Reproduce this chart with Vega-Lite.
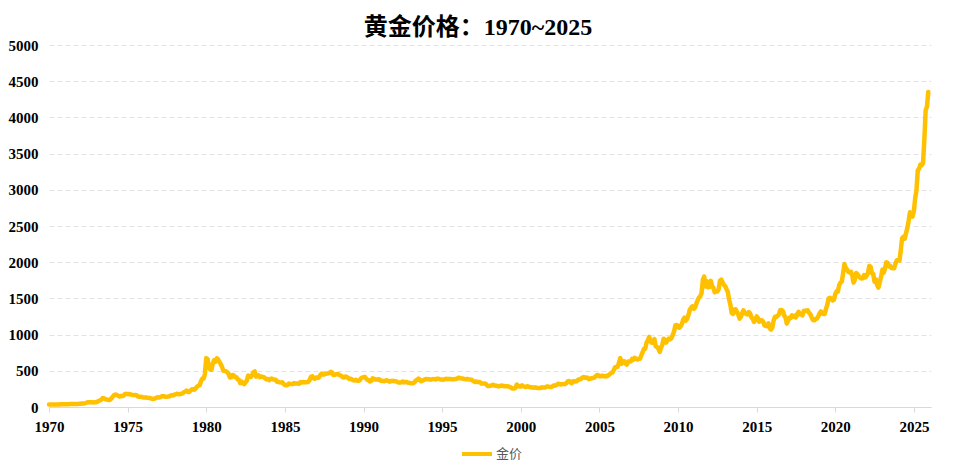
{
  "$schema": "https://vega.github.io/schema/vega-lite/v6.json",
  "description": "黄金价格 1970~2025",
  "autosize": {"type": "none"},
  "width": 882,
  "height": 362,
  "padding": {"left": 49, "top": 45, "right": 24, "bottom": 66},
  "background": "white",
  "title": {
    "text": "黄金价格：1970~2025",
    "font": "Liberation Serif, Noto Sans CJK SC",
    "fontSize": 24,
    "fontWeight": "bold",
    "color": "#000000",
    "anchor": "middle",
    "frame": "group",
    "dx": -12,
    "offset": -2
  },
  "data": {
    "values": [
      {"d":"1970-01","v":35},{"d":"1970-02","v":35},{"d":"1970-03","v":35},{"d":"1970-04","v":36},{"d":"1970-05","v":36},{"d":"1970-06","v":35},{"d":"1970-07","v":35},{"d":"1970-08","v":35},{"d":"1970-09","v":36},{"d":"1970-10","v":38},{"d":"1970-11","v":37},{"d":"1970-12","v":37},
      {"d":"1971-01","v":38},{"d":"1971-02","v":39},{"d":"1971-03","v":39},{"d":"1971-04","v":39},{"d":"1971-05","v":40},{"d":"1971-06","v":40},{"d":"1971-07","v":41},{"d":"1971-08","v":43},{"d":"1971-09","v":42},{"d":"1971-10","v":42},{"d":"1971-11","v":43},{"d":"1971-12","v":44},
      {"d":"1972-01","v":46},{"d":"1972-02","v":48},{"d":"1972-03","v":48},{"d":"1972-04","v":49},{"d":"1972-05","v":55},{"d":"1972-06","v":62},{"d":"1972-07","v":66},{"d":"1972-08","v":67},{"d":"1972-09","v":66},{"d":"1972-10","v":65},{"d":"1972-11","v":63},{"d":"1972-12","v":64},
      {"d":"1973-01","v":65},{"d":"1973-02","v":74},{"d":"1973-03","v":84},{"d":"1973-04","v":90},{"d":"1973-05","v":102},{"d":"1973-06","v":123},{"d":"1973-07","v":120},{"d":"1973-08","v":106},{"d":"1973-09","v":103},{"d":"1973-10","v":100},{"d":"1973-11","v":94},{"d":"1973-12","v":106},
      {"d":"1974-01","v":129},{"d":"1974-02","v":150},{"d":"1974-03","v":168},{"d":"1974-04","v":172},{"d":"1974-05","v":163},{"d":"1974-06","v":154},{"d":"1974-07","v":143},{"d":"1974-08","v":154},{"d":"1974-09","v":151},{"d":"1974-10","v":158},{"d":"1974-11","v":181},{"d":"1974-12","v":183},
      {"d":"1975-01","v":176},{"d":"1975-02","v":180},{"d":"1975-03","v":178},{"d":"1975-04","v":170},{"d":"1975-05","v":167},{"d":"1975-06","v":164},{"d":"1975-07","v":165},{"d":"1975-08","v":163},{"d":"1975-09","v":144},{"d":"1975-10","v":142},{"d":"1975-11","v":142},{"d":"1975-12","v":139},
      {"d":"1976-01","v":131},{"d":"1976-02","v":131},{"d":"1976-03","v":133},{"d":"1976-04","v":128},{"d":"1976-05","v":126},{"d":"1976-06","v":126},{"d":"1976-07","v":118},{"d":"1976-08","v":110},{"d":"1976-09","v":114},{"d":"1976-10","v":117},{"d":"1976-11","v":130},{"d":"1976-12","v":134},
      {"d":"1977-01","v":132},{"d":"1977-02","v":136},{"d":"1977-03","v":148},{"d":"1977-04","v":149},{"d":"1977-05","v":147},{"d":"1977-06","v":141},{"d":"1977-07","v":143},{"d":"1977-08","v":145},{"d":"1977-09","v":149},{"d":"1977-10","v":158},{"d":"1977-11","v":162},{"d":"1977-12","v":161},
      {"d":"1978-01","v":173},{"d":"1978-02","v":178},{"d":"1978-03","v":184},{"d":"1978-04","v":175},{"d":"1978-05","v":177},{"d":"1978-06","v":183},{"d":"1978-07","v":188},{"d":"1978-08","v":206},{"d":"1978-09","v":212},{"d":"1978-10","v":227},{"d":"1978-11","v":206},{"d":"1978-12","v":208},
      {"d":"1979-01","v":227},{"d":"1979-02","v":245},{"d":"1979-03","v":242},{"d":"1979-04","v":239},{"d":"1979-05","v":257},{"d":"1979-06","v":280},{"d":"1979-07","v":295},{"d":"1979-08","v":301},{"d":"1979-09","v":355},{"d":"1979-10","v":392},{"d":"1979-11","v":392},{"d":"1979-12","v":456},
      {"d":"1980-01","v":675},{"d":"1980-02","v":665},{"d":"1980-03","v":554},{"d":"1980-04","v":517},{"d":"1980-05","v":514},{"d":"1980-06","v":600},{"d":"1980-07","v":644},{"d":"1980-08","v":627},{"d":"1980-09","v":674},{"d":"1980-10","v":661},{"d":"1980-11","v":623},{"d":"1980-12","v":594},
      {"d":"1981-01","v":557},{"d":"1981-02","v":500},{"d":"1981-03","v":499},{"d":"1981-04","v":495},{"d":"1981-05","v":480},{"d":"1981-06","v":461},{"d":"1981-07","v":409},{"d":"1981-08","v":410},{"d":"1981-09","v":443},{"d":"1981-10","v":437},{"d":"1981-11","v":413},{"d":"1981-12","v":410},
      {"d":"1982-01","v":384},{"d":"1982-02","v":374},{"d":"1982-03","v":330},{"d":"1982-04","v":350},{"d":"1982-05","v":334},{"d":"1982-06","v":315},{"d":"1982-07","v":339},{"d":"1982-08","v":364},{"d":"1982-09","v":435},{"d":"1982-10","v":423},{"d":"1982-11","v":414},{"d":"1982-12","v":445},
      {"d":"1983-01","v":481},{"d":"1983-02","v":491},{"d":"1983-03","v":420},{"d":"1983-04","v":432},{"d":"1983-05","v":437},{"d":"1983-06","v":413},{"d":"1983-07","v":422},{"d":"1983-08","v":416},{"d":"1983-09","v":411},{"d":"1983-10","v":394},{"d":"1983-11","v":382},{"d":"1983-12","v":388},
      {"d":"1984-01","v":370},{"d":"1984-02","v":386},{"d":"1984-03","v":394},{"d":"1984-04","v":381},{"d":"1984-05","v":377},{"d":"1984-06","v":378},{"d":"1984-07","v":348},{"d":"1984-08","v":348},{"d":"1984-09","v":341},{"d":"1984-10","v":340},{"d":"1984-11","v":341},{"d":"1984-12","v":320},
      {"d":"1985-01","v":303},{"d":"1985-02","v":299},{"d":"1985-03","v":304},{"d":"1985-04","v":325},{"d":"1985-05","v":316},{"d":"1985-06","v":317},{"d":"1985-07","v":317},{"d":"1985-08","v":330},{"d":"1985-09","v":323},{"d":"1985-10","v":326},{"d":"1985-11","v":325},{"d":"1985-12","v":322},
      {"d":"1986-01","v":345},{"d":"1986-02","v":339},{"d":"1986-03","v":346},{"d":"1986-04","v":340},{"d":"1986-05","v":342},{"d":"1986-06","v":343},{"d":"1986-07","v":348},{"d":"1986-08","v":376},{"d":"1986-09","v":418},{"d":"1986-10","v":424},{"d":"1986-11","v":395},{"d":"1986-12","v":391},
      {"d":"1987-01","v":408},{"d":"1987-02","v":401},{"d":"1987-03","v":409},{"d":"1987-04","v":438},{"d":"1987-05","v":460},{"d":"1987-06","v":450},{"d":"1987-07","v":450},{"d":"1987-08","v":460},{"d":"1987-09","v":460},{"d":"1987-10","v":465},{"d":"1987-11","v":468},{"d":"1987-12","v":487},
      {"d":"1988-01","v":477},{"d":"1988-02","v":442},{"d":"1988-03","v":444},{"d":"1988-04","v":452},{"d":"1988-05","v":451},{"d":"1988-06","v":452},{"d":"1988-07","v":437},{"d":"1988-08","v":432},{"d":"1988-09","v":413},{"d":"1988-10","v":406},{"d":"1988-11","v":420},{"d":"1988-12","v":419},
      {"d":"1989-01","v":404},{"d":"1989-02","v":388},{"d":"1989-03","v":390},{"d":"1989-04","v":384},{"d":"1989-05","v":371},{"d":"1989-06","v":367},{"d":"1989-07","v":375},{"d":"1989-08","v":365},{"d":"1989-09","v":362},{"d":"1989-10","v":367},{"d":"1989-11","v":394},{"d":"1989-12","v":409},
      {"d":"1990-01","v":410},{"d":"1990-02","v":416},{"d":"1990-03","v":393},{"d":"1990-04","v":374},{"d":"1990-05","v":369},{"d":"1990-06","v":352},{"d":"1990-07","v":362},{"d":"1990-08","v":395},{"d":"1990-09","v":389},{"d":"1990-10","v":381},{"d":"1990-11","v":381},{"d":"1990-12","v":378},
      {"d":"1991-01","v":384},{"d":"1991-02","v":364},{"d":"1991-03","v":363},{"d":"1991-04","v":358},{"d":"1991-05","v":357},{"d":"1991-06","v":366},{"d":"1991-07","v":368},{"d":"1991-08","v":356},{"d":"1991-09","v":349},{"d":"1991-10","v":358},{"d":"1991-11","v":360},{"d":"1991-12","v":361},
      {"d":"1992-01","v":354},{"d":"1992-02","v":354},{"d":"1992-03","v":345},{"d":"1992-04","v":338},{"d":"1992-05","v":337},{"d":"1992-06","v":341},{"d":"1992-07","v":353},{"d":"1992-08","v":340},{"d":"1992-09","v":345},{"d":"1992-10","v":344},{"d":"1992-11","v":335},{"d":"1992-12","v":334},
      {"d":"1993-01","v":329},{"d":"1993-02","v":329},{"d":"1993-03","v":330},{"d":"1993-04","v":342},{"d":"1993-05","v":367},{"d":"1993-06","v":372},{"d":"1993-07","v":392},{"d":"1993-08","v":379},{"d":"1993-09","v":355},{"d":"1993-10","v":364},{"d":"1993-11","v":374},{"d":"1993-12","v":383},
      {"d":"1994-01","v":387},{"d":"1994-02","v":382},{"d":"1994-03","v":384},{"d":"1994-04","v":377},{"d":"1994-05","v":381},{"d":"1994-06","v":386},{"d":"1994-07","v":385},{"d":"1994-08","v":380},{"d":"1994-09","v":391},{"d":"1994-10","v":390},{"d":"1994-11","v":384},{"d":"1994-12","v":379},
      {"d":"1995-01","v":379},{"d":"1995-02","v":377},{"d":"1995-03","v":382},{"d":"1995-04","v":391},{"d":"1995-05","v":385},{"d":"1995-06","v":387},{"d":"1995-07","v":386},{"d":"1995-08","v":383},{"d":"1995-09","v":383},{"d":"1995-10","v":383},{"d":"1995-11","v":386},{"d":"1995-12","v":387},
      {"d":"1996-01","v":400},{"d":"1996-02","v":405},{"d":"1996-03","v":396},{"d":"1996-04","v":393},{"d":"1996-05","v":392},{"d":"1996-06","v":385},{"d":"1996-07","v":383},{"d":"1996-08","v":387},{"d":"1996-09","v":383},{"d":"1996-10","v":381},{"d":"1996-11","v":378},{"d":"1996-12","v":369},
      {"d":"1997-01","v":355},{"d":"1997-02","v":347},{"d":"1997-03","v":352},{"d":"1997-04","v":344},{"d":"1997-05","v":344},{"d":"1997-06","v":341},{"d":"1997-07","v":324},{"d":"1997-08","v":324},{"d":"1997-09","v":323},{"d":"1997-10","v":325},{"d":"1997-11","v":306},{"d":"1997-12","v":289},
      {"d":"1998-01","v":289},{"d":"1998-02","v":297},{"d":"1998-03","v":296},{"d":"1998-04","v":308},{"d":"1998-05","v":299},{"d":"1998-06","v":292},{"d":"1998-07","v":293},{"d":"1998-08","v":284},{"d":"1998-09","v":289},{"d":"1998-10","v":296},{"d":"1998-11","v":294},{"d":"1998-12","v":291},
      {"d":"1999-01","v":287},{"d":"1999-02","v":287},{"d":"1999-03","v":286},{"d":"1999-04","v":282},{"d":"1999-05","v":276},{"d":"1999-06","v":261},{"d":"1999-07","v":256},{"d":"1999-08","v":257},{"d":"1999-09","v":265},{"d":"1999-10","v":311},{"d":"1999-11","v":293},{"d":"1999-12","v":283},
      {"d":"2000-01","v":284},{"d":"2000-02","v":300},{"d":"2000-03","v":286},{"d":"2000-04","v":280},{"d":"2000-05","v":275},{"d":"2000-06","v":286},{"d":"2000-07","v":282},{"d":"2000-08","v":274},{"d":"2000-09","v":273},{"d":"2000-10","v":270},{"d":"2000-11","v":266},{"d":"2000-12","v":272},
      {"d":"2001-01","v":266},{"d":"2001-02","v":262},{"d":"2001-03","v":263},{"d":"2001-04","v":261},{"d":"2001-05","v":272},{"d":"2001-06","v":270},{"d":"2001-07","v":268},{"d":"2001-08","v":273},{"d":"2001-09","v":283},{"d":"2001-10","v":283},{"d":"2001-11","v":276},{"d":"2001-12","v":276},
      {"d":"2002-01","v":282},{"d":"2002-02","v":296},{"d":"2002-03","v":294},{"d":"2002-04","v":302},{"d":"2002-05","v":314},{"d":"2002-06","v":322},{"d":"2002-07","v":314},{"d":"2002-08","v":310},{"d":"2002-09","v":319},{"d":"2002-10","v":317},{"d":"2002-11","v":319},{"d":"2002-12","v":333},
      {"d":"2003-01","v":357},{"d":"2003-02","v":359},{"d":"2003-03","v":340},{"d":"2003-04","v":328},{"d":"2003-05","v":355},{"d":"2003-06","v":356},{"d":"2003-07","v":351},{"d":"2003-08","v":360},{"d":"2003-09","v":379},{"d":"2003-10","v":379},{"d":"2003-11","v":389},{"d":"2003-12","v":407},
      {"d":"2004-01","v":414},{"d":"2004-02","v":405},{"d":"2004-03","v":406},{"d":"2004-04","v":404},{"d":"2004-05","v":384},{"d":"2004-06","v":392},{"d":"2004-07","v":398},{"d":"2004-08","v":400},{"d":"2004-09","v":406},{"d":"2004-10","v":420},{"d":"2004-11","v":439},{"d":"2004-12","v":442},
      {"d":"2005-01","v":424},{"d":"2005-02","v":423},{"d":"2005-03","v":434},{"d":"2005-04","v":428},{"d":"2005-05","v":422},{"d":"2005-06","v":431},{"d":"2005-07","v":424},{"d":"2005-08","v":438},{"d":"2005-09","v":456},{"d":"2005-10","v":470},{"d":"2005-11","v":476},{"d":"2005-12","v":510},
      {"d":"2006-01","v":549},{"d":"2006-02","v":555},{"d":"2006-03","v":557},{"d":"2006-04","v":610},{"d":"2006-05","v":676},{"d":"2006-06","v":596},{"d":"2006-07","v":633},{"d":"2006-08","v":632},{"d":"2006-09","v":598},{"d":"2006-10","v":586},{"d":"2006-11","v":628},{"d":"2006-12","v":629},
      {"d":"2007-01","v":631},{"d":"2007-02","v":665},{"d":"2007-03","v":655},{"d":"2007-04","v":679},{"d":"2007-05","v":667},{"d":"2007-06","v":655},{"d":"2007-07","v":665},{"d":"2007-08","v":665},{"d":"2007-09","v":712},{"d":"2007-10","v":754},{"d":"2007-11","v":806},{"d":"2007-12","v":803},
      {"d":"2008-01","v":889},{"d":"2008-02","v":922},{"d":"2008-03","v":968},{"d":"2008-04","v":909},{"d":"2008-05","v":888},{"d":"2008-06","v":889},{"d":"2008-07","v":939},{"d":"2008-08","v":839},{"d":"2008-09","v":829},{"d":"2008-10","v":806},{"d":"2008-11","v":760},{"d":"2008-12","v":816},
      {"d":"2009-01","v":858},{"d":"2009-02","v":943},{"d":"2009-03","v":924},{"d":"2009-04","v":890},{"d":"2009-05","v":928},{"d":"2009-06","v":946},{"d":"2009-07","v":934},{"d":"2009-08","v":949},{"d":"2009-09","v":996},{"d":"2009-10","v":1043},{"d":"2009-11","v":1127},{"d":"2009-12","v":1134},
      {"d":"2010-01","v":1118},{"d":"2010-02","v":1095},{"d":"2010-03","v":1113},{"d":"2010-04","v":1148},{"d":"2010-05","v":1205},{"d":"2010-06","v":1233},{"d":"2010-07","v":1193},{"d":"2010-08","v":1215},{"d":"2010-09","v":1271},{"d":"2010-10","v":1343},{"d":"2010-11","v":1370},{"d":"2010-12","v":1391},
      {"d":"2011-01","v":1356},{"d":"2011-02","v":1372},{"d":"2011-03","v":1424},{"d":"2011-04","v":1473},{"d":"2011-05","v":1510},{"d":"2011-06","v":1529},{"d":"2011-07","v":1572},{"d":"2011-08","v":1756},{"d":"2011-09","v":1800},{"d":"2011-10","v":1665},{"d":"2011-11","v":1739},{"d":"2011-12","v":1652},
      {"d":"2012-01","v":1656},{"d":"2012-02","v":1742},{"d":"2012-03","v":1673},{"d":"2012-04","v":1650},{"d":"2012-05","v":1585},{"d":"2012-06","v":1596},{"d":"2012-07","v":1594},{"d":"2012-08","v":1626},{"d":"2012-09","v":1744},{"d":"2012-10","v":1760},{"d":"2012-11","v":1721},{"d":"2012-12","v":1688},
      {"d":"2013-01","v":1670},{"d":"2013-02","v":1627},{"d":"2013-03","v":1592},{"d":"2013-04","v":1485},{"d":"2013-05","v":1414},{"d":"2013-06","v":1300},{"d":"2013-07","v":1286},{"d":"2013-08","v":1347},{"d":"2013-09","v":1349},{"d":"2013-10","v":1316},{"d":"2013-11","v":1275},{"d":"2013-12","v":1221},
      {"d":"2014-01","v":1244},{"d":"2014-02","v":1300},{"d":"2014-03","v":1336},{"d":"2014-04","v":1299},{"d":"2014-05","v":1287},{"d":"2014-06","v":1279},{"d":"2014-07","v":1311},{"d":"2014-08","v":1296},{"d":"2014-09","v":1239},{"d":"2014-10","v":1222},{"d":"2014-11","v":1176},{"d":"2014-12","v":1200},
      {"d":"2015-01","v":1251},{"d":"2015-02","v":1227},{"d":"2015-03","v":1179},{"d":"2015-04","v":1198},{"d":"2015-05","v":1199},{"d":"2015-06","v":1181},{"d":"2015-07","v":1128},{"d":"2015-08","v":1117},{"d":"2015-09","v":1125},{"d":"2015-10","v":1157},{"d":"2015-11","v":1086},{"d":"2015-12","v":1068},
      {"d":"2016-01","v":1097},{"d":"2016-02","v":1199},{"d":"2016-03","v":1246},{"d":"2016-04","v":1242},{"d":"2016-05","v":1260},{"d":"2016-06","v":1276},{"d":"2016-07","v":1337},{"d":"2016-08","v":1341},{"d":"2016-09","v":1326},{"d":"2016-10","v":1267},{"d":"2016-11","v":1236},{"d":"2016-12","v":1152},
      {"d":"2017-01","v":1192},{"d":"2017-02","v":1234},{"d":"2017-03","v":1231},{"d":"2017-04","v":1267},{"d":"2017-05","v":1245},{"d":"2017-06","v":1260},{"d":"2017-07","v":1236},{"d":"2017-08","v":1283},{"d":"2017-09","v":1315},{"d":"2017-10","v":1280},{"d":"2017-11","v":1283},{"d":"2017-12","v":1265},
      {"d":"2018-01","v":1331},{"d":"2018-02","v":1331},{"d":"2018-03","v":1325},{"d":"2018-04","v":1335},{"d":"2018-05","v":1303},{"d":"2018-06","v":1282},{"d":"2018-07","v":1238},{"d":"2018-08","v":1201},{"d":"2018-09","v":1198},{"d":"2018-10","v":1215},{"d":"2018-11","v":1220},{"d":"2018-12","v":1250},
      {"d":"2019-01","v":1291},{"d":"2019-02","v":1320},{"d":"2019-03","v":1300},{"d":"2019-04","v":1285},{"d":"2019-05","v":1284},{"d":"2019-06","v":1359},{"d":"2019-07","v":1413},{"d":"2019-08","v":1500},{"d":"2019-09","v":1510},{"d":"2019-10","v":1495},{"d":"2019-11","v":1471},{"d":"2019-12","v":1480},
      {"d":"2020-01","v":1560},{"d":"2020-02","v":1597},{"d":"2020-03","v":1592},{"d":"2020-04","v":1683},{"d":"2020-05","v":1716},{"d":"2020-06","v":1732},{"d":"2020-07","v":1846},{"d":"2020-08","v":1975},{"d":"2020-09","v":1921},{"d":"2020-10","v":1900},{"d":"2020-11","v":1866},{"d":"2020-12","v":1858},
      {"d":"2021-01","v":1867},{"d":"2021-02","v":1808},{"d":"2021-03","v":1718},{"d":"2021-04","v":1760},{"d":"2021-05","v":1850},{"d":"2021-06","v":1834},{"d":"2021-07","v":1807},{"d":"2021-08","v":1785},{"d":"2021-09","v":1776},{"d":"2021-10","v":1777},{"d":"2021-11","v":1821},{"d":"2021-12","v":1790},
      {"d":"2022-01","v":1817},{"d":"2022-02","v":1856},{"d":"2022-03","v":1948},{"d":"2022-04","v":1937},{"d":"2022-05","v":1849},{"d":"2022-06","v":1837},{"d":"2022-07","v":1732},{"d":"2022-08","v":1764},{"d":"2022-09","v":1681},{"d":"2022-10","v":1650},{"d":"2022-11","v":1726},{"d":"2022-12","v":1798},
      {"d":"2023-01","v":1898},{"d":"2023-02","v":1855},{"d":"2023-03","v":1912},{"d":"2023-04","v":1999},{"d":"2023-05","v":1992},{"d":"2023-06","v":1943},{"d":"2023-07","v":1951},{"d":"2023-08","v":1918},{"d":"2023-09","v":1916},{"d":"2023-10","v":1916},{"d":"2023-11","v":1985},{"d":"2023-12","v":2027},
      {"d":"2024-01","v":2034},{"d":"2024-02","v":2023},{"d":"2024-03","v":2158},{"d":"2024-04","v":2331},{"d":"2024-05","v":2351},{"d":"2024-06","v":2326},{"d":"2024-07","v":2398},{"d":"2024-08","v":2470},{"d":"2024-09","v":2570},{"d":"2024-10","v":2690},{"d":"2024-11","v":2651},{"d":"2024-12","v":2630},
      {"d":"2025-01","v":2709},{"d":"2025-02","v":2895},{"d":"2025-03","v":2984},{"d":"2025-04","v":3270},{"d":"2025-05","v":3290},{"d":"2025-06","v":3350},{"d":"2025-07","v":3340},{"d":"2025-08","v":3370},{"d":"2025-09","v":3700},{"d":"2025-10","v":4100},{"d":"2025-11","v":4150},{"d":"2025-12","v":4350}
    ]
  },
  "mark": {"type": "line", "strokeWidth": 4.5, "strokeJoin": "round", "strokeCap": "round"},
  "encoding": {
    "x": {
      "field": "d",
      "type": "temporal",
      "scale": {"domain": [{"year": 1970, "month": 1, "date": 1}, {"year": 2026, "month": 2, "date": 2}]},
      "axis": {
        "title": null,
        "grid": false,
        "values": [{"year": 1970}, {"year": 1975}, {"year": 1980}, {"year": 1985}, {"year": 1990}, {"year": 1995}, {"year": 2000}, {"year": 2005}, {"year": 2010}, {"year": 2015}, {"year": 2020}, {"year": 2025}],
        "format": "%Y",
        "labelFlush": false,
        "labelOverlap": false,
        "domainColor": "#d9d9d9",
        "tickColor": "#d9d9d9",
        "tickSize": 5,
        "labelPadding": 7,
        "labelFont": "Liberation Serif",
        "labelFontWeight": "bold",
        "labelFontSize": 15,
        "labelColor": "#000000"
      }
    },
    "y": {
      "field": "v",
      "type": "quantitative",
      "scale": {"domain": [0, 5000], "nice": false},
      "axis": {
        "title": null,
        "values": [0, 500, 1000, 1500, 2000, 2500, 3000, 3500, 4000, 4500, 5000],
        "format": "d",
        "domain": false,
        "ticks": false,
        "gridColor": "#e3e3e3",
        "gridDash": [5, 3],
        "labelPadding": 11,
        "labelFont": "Liberation Serif",
        "labelFontWeight": "bold",
        "labelFontSize": 15,
        "labelColor": "#000000"
      }
    },
    "color": {
      "datum": "金价",
      "type": "nominal",
      "scale": {"range": ["#FFC000"]},
      "legend": {
        "title": null,
        "orient": "none",
        "legendX": 411,
        "legendY": 392,
        "symbolType": "stroke",
        "symbolSize": 900,
        "symbolStrokeWidth": 4,
        "labelFont": "Noto Sans CJK SC",
        "labelFontSize": 13,
        "labelColor": "#595959",
        "labelOffset": 2
      }
    }
  },
  "config": {"view": {"stroke": null}}
}
